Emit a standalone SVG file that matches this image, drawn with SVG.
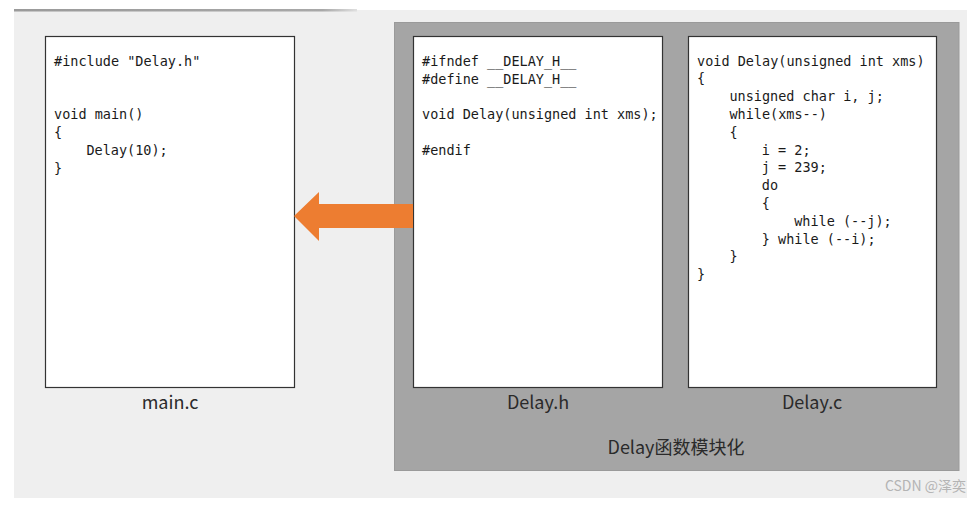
<svg xmlns="http://www.w3.org/2000/svg" width="970" height="511" viewBox="0 0 970 511">
  <defs>
    <linearGradient id="topline" x1="0" y1="0" x2="1" y2="0">
      <stop offset="0" stop-color="#9a9a9a"/>
      <stop offset="0.9" stop-color="#a8a8a8"/>
      <stop offset="1" stop-color="#e0e0e0"/>
    </linearGradient>
    <style>
      .file { fill: #ffffff; stroke: #333333; stroke-width: 1.2; }
      .code { font-family: "DejaVu Sans Mono", "Liberation Mono", monospace; font-size: 13.5px; fill: #1a1a1a; }
      .label { font-family: "Noto Sans CJK SC", "Noto Sans", sans-serif; font-size: 18px; fill: #2a2a2a; text-anchor: middle; }
      .mark { font-family: "Noto Sans CJK SC", "Noto Sans", sans-serif; font-size: 14px; fill: #b4b4b4; text-anchor: end; }
    </style>
  </defs>

  <rect x="0" y="0" width="970" height="511" fill="#ffffff"/>
  <rect id="panel" x="14" y="10" width="953" height="488" fill="#efefef"/>
  <rect x="14" y="9" width="343" height="2.5" fill="url(#topline)"/>

  <g id="module">
    <rect x="394.5" y="22.5" width="564.5" height="448" fill="#a5a5a5" stroke="#9a9a9a" stroke-width="1"/>
    <text class="label" x="676" y="454">Delay函数模块化</text>
  </g>

  <g id="main_c">
    <rect class="file" x="45.5" y="36.5" width="249" height="351"/>
    <text class="code" x="54" y="65.5">#include "Delay.h"</text>
    <text class="code" x="54" y="119">void main()</text>
    <text class="code" x="54" y="137">{</text>
    <text class="code" x="86.4" y="155">Delay(10);</text>
    <text class="code" x="54" y="173">}</text>
    <text class="label" x="170" y="409">main.c</text>
  </g>

  <g id="delay_h">
    <rect class="file" x="413.5" y="36.5" width="249" height="351"/>
    <text class="code" x="422" y="65.5">#ifndef __DELAY_H__</text>
    <text class="code" x="422" y="83.5">#define __DELAY_H__</text>
    <text class="code" x="422" y="119">void Delay(unsigned int xms);</text>
    <text class="code" x="422" y="154.5">#endif</text>
    <text class="label" x="538" y="409">Delay.h</text>
  </g>

  <g id="delay_c">
    <rect class="file" x="688.5" y="36.5" width="248" height="351"/>
    <text class="code" x="697" y="65.5">void Delay(unsigned int xms)</text>
    <text class="code" x="697" y="83.3">{</text>
    <text class="code" x="729.4" y="101.1">unsigned char i, j;</text>
    <text class="code" x="729.4" y="118.9">while(xms--)</text>
    <text class="code" x="729.4" y="136.7">{</text>
    <text class="code" x="761.8" y="154.5">i = 2;</text>
    <text class="code" x="761.8" y="172.3">j = 239;</text>
    <text class="code" x="761.8" y="190.1">do</text>
    <text class="code" x="761.8" y="207.9">{</text>
    <text class="code" x="794.2" y="225.7">while (--j);</text>
    <text class="code" x="761.8" y="243.5">} while (--i);</text>
    <text class="code" x="729.4" y="261.3">}</text>
    <text class="code" x="697" y="279.1">}</text>
    <text class="label" x="812" y="409">Delay.c</text>
  </g>

  <g id="connectors">
    <path d="M413,204 L319,204 L319,192 L294,216 L319,241 L319,228 L413,228 Z" fill="#ed7d31"/>
  </g>

  <text class="mark" x="966" y="491">CSDN @泽奕</text>
</svg>
